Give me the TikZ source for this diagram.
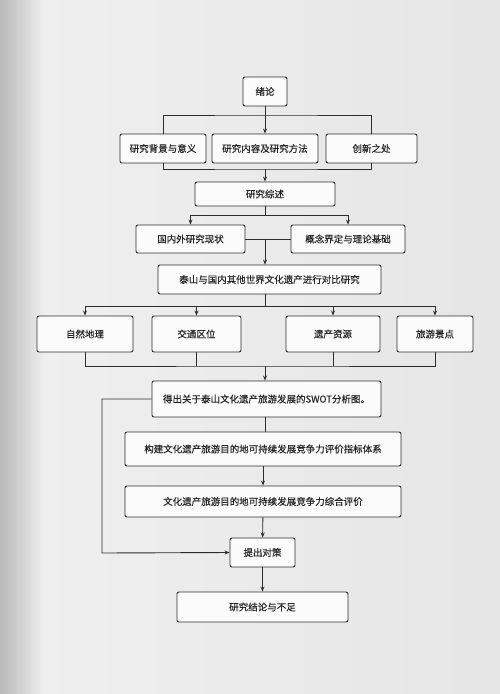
\documentclass[tikz,border=0pt]{standalone}
\usepackage{fontspec}
\newfontfamily\cjk[FakeBold=0.4]{Noto Sans CJK SC}
\usetikzlibrary{arrows.meta, positioning, calc}
\definecolor{boxline}{RGB}{45, 45, 45}

\begin{document}
\begin{tikzpicture}[
  x=1pt, y=-1pt,
  fbox/.style={draw=boxline, fill=gray!3, line width=0.9pt, rounded corners=2pt, inner sep=0pt, align=center, font=\cjk\fontsize{9.5}{11}\selectfont, text=black!85},
  conn/.style={draw=boxline, line width=0.9pt},
  arr/.style={conn, -{Stealth[length=5pt, width=4pt]}}
]
  % background
  \shade[left color=gray!12, middle color=gray!5, right color=gray!20] (0,0) rectangle (500,694);
  \shade[left color=gray!55, right color=gray!12] (0,0) rectangle (45,694);
  \useasboundingbox (0,0) rectangle (500,694);

  % boxes
  \node[fbox, minimum width=44pt, minimum height=29pt] (xl) at (265, 91.5) {绪论};
  \node[fbox, minimum width=86pt, minimum height=29pt] (bj) at (163, 148.5) {研究背景与意义};
  \node[fbox, minimum width=106pt, minimum height=29pt] (nr) at (265, 148.5) {研究内容及研究方法};
  \node[fbox, minimum width=91pt, minimum height=29pt] (cx) at (371.5, 148.5) {创新之处};
  \node[fbox, minimum width=140pt, minimum height=24pt] (zs) at (265, 194) {研究综述};
  \node[fbox, minimum width=109pt, minimum height=28pt] (xz) at (190.5, 239) {国内外研究现状};
  \node[fbox, minimum width=114pt, minimum height=28pt] (gn) at (348, 239) {概念界定与理论基础};
  \node[fbox, minimum width=223pt, minimum height=29pt] (db) at (269.5, 279.5) {泰山与国内其他世界文化遗产进行对比研究};
  \node[fbox, minimum width=96pt, minimum height=36pt] (zr) at (85, 334) {自然地理};
  \node[fbox, minimum width=89pt, minimum height=36pt] (jt) at (196.5, 334) {交通区位};
  \node[fbox, minimum width=94pt, minimum height=36pt] (yc) at (333, 334) {遗产资源};
  \node[fbox, minimum width=76pt, minimum height=36pt] (jd) at (435, 334) {旅游景点};
  \node[fbox, minimum width=229pt, minimum height=36pt] (swot) at (266.5, 399) {得出关于泰山文化遗产旅游发展的SWOT分析图。};
  \node[fbox, minimum width=276pt, minimum height=34pt] (tx) at (263, 449) {构建文化遗产旅游目的地可持续发展竞争力评价指标体系};
  \node[fbox, minimum width=276pt, minimum height=31pt] (pj) at (263, 501.5) {文化遗产旅游目的地可持续发展竞争力综合评价};
  \node[fbox, minimum width=65pt, minimum height=29pt] (dc) at (262.5, 552.5) {提出对策};
  \node[fbox, minimum width=171pt, minimum height=30pt] (jl) at (262.5, 607) {研究结论与不足};

  % junction points
  \coordinate (j1) at (265, 115);
  \coordinate (j2) at (265, 169);
  \coordinate (j3) at (265, 215);
  \coordinate (j4) at (265, 239);
  \coordinate (j5) at (265, 306);
  \coordinate (j6) at (265, 366);
  \coordinate (lf) at (102, 553);

  % connectors
  \draw[conn] (bj.north) |- (j1) -| (cx.north);
  \draw[arr] (xl) -- (nr);
  \draw[conn] (bj.south) |- (j2) -| (cx.south);
  \draw[arr] (j2) -- (j2 |- zs.north);
  \draw[conn] (zs.south -| j3) -- (j3);
  \draw[arr] (j3) -| (xz.north);
  \draw[arr] (j3) -| (gn.north);
  \draw[conn] (xz) -- (gn);
  \draw[arr] (j4) -- (j4 |- db.north);
  \draw[conn] (db.south -| j5) -- (j5);
  \draw[arr] (j5) -| (zr.north);
  \draw[arr] (j5) -| (jd.north);
  \draw[arr] (jt.north |- j5) -- (jt.north);
  \draw[arr] (yc.north |- j5) -- (yc.north);
  \draw[conn] (zr.south) |- (j6) -| (jd.south);
  \draw[conn] (jt.south) -- (jt.south |- j6);
  \draw[conn] (yc.south) -- (yc.south |- j6);
  \draw[arr] (j6) -- (j6 |- swot.north);
  \draw[conn] (swot.south -| j6) -- (j6 |- tx.north);
  \draw[arr] (tx) -- (pj);
  \draw[arr] (pj) -- (dc);
  \draw[arr] (dc) -- (jl);
  \draw[arr] (swot.west) -| (lf) -- (dc.west);
\end{tikzpicture}
\end{document}
